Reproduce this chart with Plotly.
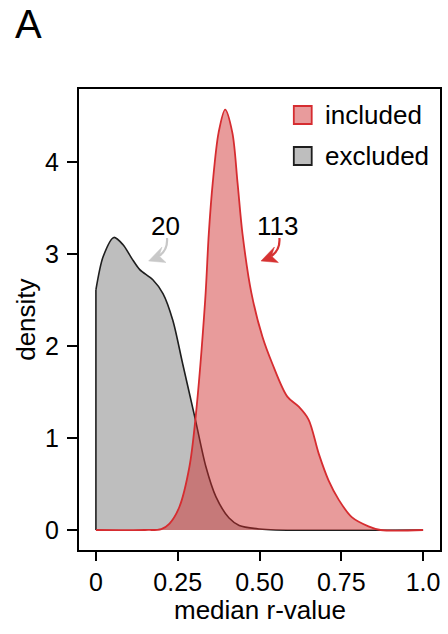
import plotly.graph_objects as go

# ---------------- data ----------------
excl_x = [0.0, 0.022, 0.055, 0.083, 0.11, 0.134, 0.174, 0.205, 0.235, 0.265,
          0.304, 0.336, 0.367, 0.407, 0.438, 0.5, 0.55, 1.0]
excl_y = [2.61, 2.97, 3.18, 3.10, 2.95, 2.83, 2.72, 2.57, 2.28, 1.81,
          1.20, 0.69, 0.36, 0.13, 0.05, 0.01, 0.0, 0.0]

incl_x = [0.0, 0.15, 0.2, 0.225, 0.255, 0.286, 0.304, 0.334, 0.345, 0.357,
          0.375, 0.395, 0.417, 0.433, 0.448, 0.475, 0.509, 0.539, 0.585,
          0.62, 0.65, 0.681, 0.711, 0.742, 0.782, 0.833, 0.87, 1.0]
incl_y = [0.0, 0.0, 0.01, 0.07, 0.25, 0.69, 1.20, 2.50, 3.22, 3.77,
          4.32, 4.57, 4.32, 3.77, 3.22, 2.58, 2.10, 1.81, 1.45,
          1.34, 1.20, 0.83, 0.54, 0.33, 0.14, 0.04, 0.0, 0.0]

series_names = ["included", "excluded"]
counts = ["113", "20"]
x_ticks = [0, 0.25, 0.5, 0.75, 1.0]
x_tick_labels = ["0", "0.25", "0.50", "0.75", "1.0"]
y_ticks = [0, 1, 2, 3, 4]

# ---------------- layout constants ----------------
W, H = 448, 634
L, R, T, B = 79, 442, 89, 550
FONT = "Liberation Sans, Arial, Helvetica, sans-serif"
RED_LINE = "rgb(214,44,48)"
RED_FILL = "rgba(207,47,47,0.48)"
GREY_FILL = "rgb(190,190,190)"
GREY_LINE = "rgb(30,30,30)"


def px(xp, yp):
    """pixel -> paper coordinates"""
    return (xp - L) / (R - L), (B - yp) / (B - T)


fig = go.Figure()

# excluded (grey) density
fig.add_trace(go.Scatter(x=excl_x, y=excl_y, mode="lines",
                         line=dict(color=GREY_LINE, width=1.6, shape="spline", smoothing=0.8),
                         fill="tozeroy", fillcolor=GREY_FILL, showlegend=False,
                         name=series_names[1]))
# vertical left edge of the grey density
fig.add_trace(go.Scatter(x=[excl_x[0], excl_x[0]], y=[0, excl_y[0]], mode="lines",
                         line=dict(color=GREY_LINE, width=1.6), showlegend=False,
                         hoverinfo="skip"))
# included (red) density
fig.add_trace(go.Scatter(x=incl_x, y=incl_y, mode="lines",
                         line=dict(color=RED_LINE, width=1.8, shape="spline", smoothing=0.9),
                         fill="tozeroy", fillcolor=RED_FILL, showlegend=False,
                         name=series_names[0]))

shapes = []
annotations = []

# legend (custom)
leg = [(series_names[0], "rgb(232,155,156)", RED_LINE, 115),
       (series_names[1], GREY_FILL, GREY_LINE, 156)]
for name, fc, lc, cy in leg:
    x0, y0 = px(295, cy + 9)
    x1, y1 = px(313, cy - 9)
    shapes.append(dict(type="rect", xref="paper", yref="paper", x0=x0, y0=y0, x1=x1, y1=y1,
                       fillcolor=fc, line=dict(color=lc, width=1.8)))
    ax, ay = px(324, cy)
    annotations.append(dict(text=name, xref="paper", yref="paper", x=ax, y=ay,
                            xanchor="left", yanchor="middle", showarrow=False,
                            font=dict(family=FONT, size=26, color="black")))

# count labels with curved arrows
for label, cx, col in [(counts[1], 166, "rgb(200,200,200)"), (counts[0], 279, "rgb(214,50,50)")]:
    ax, ay = px(cx, 226)
    annotations.append(dict(text=label, xref="paper", yref="paper", x=ax, y=ay,
                            xanchor="center", yanchor="middle", showarrow=False,
                            font=dict(family=FONT, size=26, color="black")))
    dx = cx - 279
    tip = (262 + dx, 261)
    barb1 = (279.5 + dx, 262.5)
    barb2 = (275.5 + dx, 247)
    notch = (272.5 + dx, 256)
    start = (280.5 + dx, 238)
    ctrl = (281.5 + dx, 250)

    def P(p):
        x, y = px(*p)
        return f"{x:.5f},{y:.5f}"

    shapes.append(dict(type="path", xref="paper", yref="paper",
                       path=f"M {P(start)} Q {P(ctrl)} {P(notch)}",
                       line=dict(color=col, width=2.2)))
    shapes.append(dict(type="path", xref="paper", yref="paper",
                       path=f"M {P(tip)} L {P(barb1)} L {P(notch)} L {P(barb2)} Z",
                       fillcolor=col, line=dict(color=col, width=0.5)))

# panel letter
ax, ay = px(28, 24)
annotations.append(dict(text="A", xref="paper", yref="paper", x=ax, y=ay,
                        xanchor="center", yanchor="middle", showarrow=False,
                        font=dict(family=FONT, size=40, color="black")))
# axis titles
ax, ay = px(261, 610)
annotations.append(dict(text="median r-value", xref="paper", yref="paper", x=ax, y=ay,
                        xanchor="center", yanchor="middle", showarrow=False,
                        font=dict(family=FONT, size=26, color="black")))
ax, ay = px(25, (T + B) / 2)
annotations.append(dict(text="density", xref="paper", yref="paper", x=ax, y=ay,
                        xanchor="center", yanchor="middle", showarrow=False, textangle=-90,
                        font=dict(family=FONT, size=26, color="black")))

x0d = -(96 - L) / 329
x1d = (R - 96) / 329
y0d = -(B - 530) / 92
y1d = (530 - T) / 92

fig.update_layout(
    width=W, height=H,
    margin=dict(l=L, r=W - R, t=T, b=H - B, pad=0),
    paper_bgcolor="white", plot_bgcolor="white",
    shapes=shapes, annotations=annotations,
    showlegend=False,
    xaxis=dict(range=[x0d, x1d], tickvals=x_ticks, ticktext=x_tick_labels,
               showline=True, mirror=True, linecolor="black", linewidth=2,
               ticks="outside", ticklen=9, tickwidth=2, tickcolor="black",
               showgrid=False, zeroline=False, ticklabelstandoff=0,
               tickfont=dict(family=FONT, size=25, color="black")),
    yaxis=dict(range=[y0d, y1d], tickvals=y_ticks,
               showline=True, mirror=True, linecolor="black", linewidth=2,
               ticks="outside", ticklen=10, tickwidth=2, tickcolor="black",
               showgrid=False, zeroline=False, ticklabelstandoff=3,
               tickfont=dict(family=FONT, size=25, color="black")),
)

fig.write_html("out.html", config={"displayModeBar": False},
               post_script="document.body.style.margin='0px';")
